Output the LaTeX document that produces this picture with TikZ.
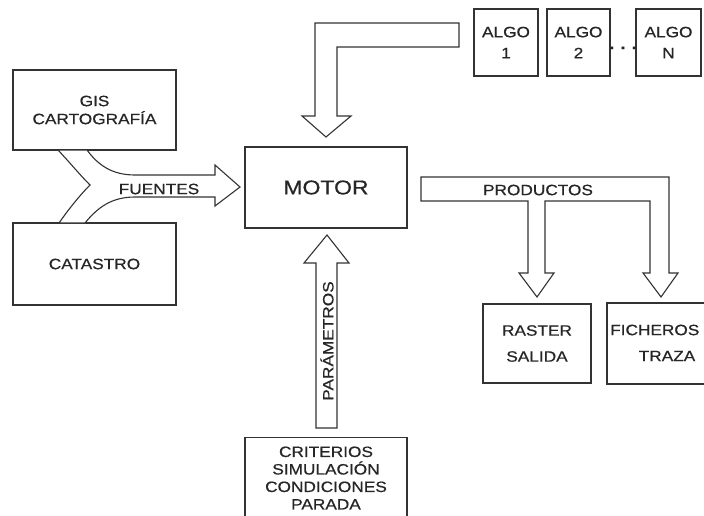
\documentclass[tikz,border=0pt]{standalone}
\usepackage{fontspec}
\setmainfont{Liberation Sans}[FakeStretch=1.15,FakeBold=0.6]
\newcommand\mylbl{\fontsize{15}{18}\selectfont}
\newcommand\mybig{\fontsize{20}{24}\selectfont}
\begin{document}
\begin{tikzpicture}[x=1pt,y=-1pt,
  box/.style={draw=black!80,line width=1.3pt,inner sep=0pt,align=center,font=\mylbl,text=black!85},
  fat/.style={draw=black!80,line width=1.1pt,fill=white,line join=miter},
  lab/.style={font=\mylbl,text=black!85,inner sep=0pt,align=center}]
\clip (0,0) rectangle (704,515);
\fill[white] (0,0) rectangle (704,515);
% boxes
\node[box,minimum width=163pt,minimum height=80pt] (gis) at (94.5,110) {GIS\\CARTOGRAFÍA};
\node[box,minimum width=163pt,minimum height=82pt] (cat) at (94.5,264) {CATASTRO};
\node[box,minimum width=162pt,minimum height=81pt,font=\mybig] (motor) at (326,187.5) {MOTOR};
\node[box,minimum width=64pt,minimum height=67pt] (algo1) at (506,42.5) {ALGO\\[3pt]1};
\node[box,minimum width=63pt,minimum height=67pt] (algo2) at (578.5,42.5) {ALGO\\[3pt]2};
\node[box,minimum width=65pt,minimum height=67pt] (algoN) at (668.5,42.5) {ALGO\\[3pt]N};
\node[lab,anchor=base] (dots) at (623,49) {\textbf{. . .}};
\node[box,minimum width=108pt,minimum height=79pt] (raster) at (537,343.5) {RASTER\\[8pt]SALIDA};
\node[box,minimum width=122pt,minimum height=81pt] (fich) at (668,343.5) {};
\node[lab,anchor=west] (fichlbl) at (610,330) {FICHEROS};
\node[lab] (trazalbl) at (667,356) {TRAZA};
\node[box,minimum width=162pt,minimum height=100pt,anchor=north] (crit) at (326,437) {};
\node[lab,font=\fontsize{15}{17.5}\selectfont] (critlbl) at (326,478) {CRITERIOS\\SIMULACIÓN\\CONDICIONES\\PARADA};
% FUENTES arrow (merging two sources)
\draw[fat] (58,150) .. controls (72,165) and (80,175) .. (90,185)
  .. controls (80,195) and (68,210) .. (59,223) -- (85,223)
  .. controls (98,207) and (112,197) .. (135,197) -- (215,197) -- (215,206)
  -- (240,187) -- (215,165) -- (215,175) -- (135,175)
  .. controls (112,175) and (98,165) .. (87,150) -- cycle;
\node[lab] (fuentes) at (159,189) {FUENTES};
% ALGO -> MOTOR arrow
\draw[fat] (459,23) -- (315,23) -- (315,116) -- (302,116) -- (326,137)
  -- (351,116) -- (337,116) -- (337,47) -- (459,47) -- cycle;
% PRODUCTOS arrow
\draw[fat] (421,177) -- (669,177) -- (669,273) -- (678,273) -- (661,297)
  -- (643,273) -- (650,273) -- (650,201) -- (545,201) -- (545,273)
  -- (554,273) -- (537,297) -- (519,273) -- (528,273) -- (528,201)
  -- (421,201) -- cycle;
\node[lab] (productos) at (538,190) {PRODUCTOS};
% PARAMETROS arrow
\draw[fat] (316,428) -- (316,263) -- (304,263) -- (327,235) -- (349,263)
  -- (337,263) -- (337,428) -- cycle;
\node[lab,rotate=90] (param) at (327,341) {PARÁMETROS};
\end{tikzpicture}
\end{document}
